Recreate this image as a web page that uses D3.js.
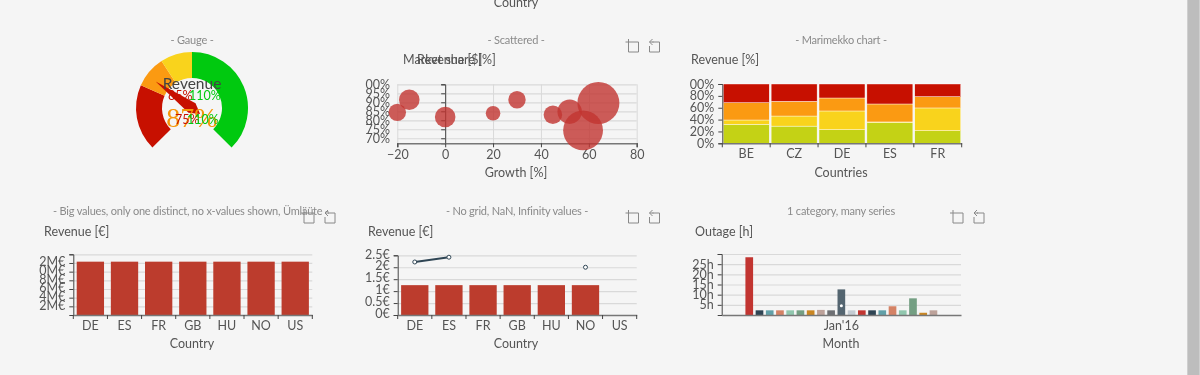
<!DOCTYPE html>
<html>
<head>
<meta charset="utf-8">
<script src="https://cdn.jsdelivr.net/npm/d3@7"></script>
<style>
  html, body { margin: 0; padding: 0; background: #f5f5f5; overflow: hidden; }
  svg { display: block; font-family: Lato, sans-serif; filter: blur(0.35px); }
  .title { font-size: 11px; letter-spacing: -0.2px; fill: #8a8a8a; text-anchor: middle; }
  .unit { font-size: 12.5px; fill: #555; }
  .axisname { font-size: 12.5px; fill: #555; text-anchor: middle; }
  .tick text { font-size: 12.5px; fill: #555; font-family: Lato, sans-serif; }
</style>
</head>
<body>
<svg id="chart" width="1200" height="375"></svg>
<script>
/*** Data ***/
var gaugeStops = [38, 75, 90, 110, 180];
var gaugeColors = ["#c71000", "#fb9a12", "#f9d31c", "#00c90f"];
var gaugeNeedle = 80.5;
var gaugeValueText = "87%";
var gaugeUpperLabels = ["85%", "110%"];
var gaugeLowerLabels = ["75%", "110%"];

var growth = [-20, -15, 0, 20, 30, 45, 52, 64, 57.6];
var marketShare = [84.4, 91.4, 81.8, 83.9, 91.4, 83.1, 84.8, 89.6, 74.4];
var bubbleRevenue = [8.6, 12, 12, 6, 8.6, 9.8, 17, 50, 45];
var scatterYTicks = [100, 95, 90, 85, 80, 75, 70];
var scatterYLabels = ["00%", "95%", "90%", "85%", "80%", "75%", "70%"];
var scatterXTicks = [-20, 0, 20, 40, 60, 80];

var mekkoCountries = ["BE", "CZ", "DE", "ES", "FR"];
var mekkoLime = [32, 29, 23, 35, 21.3];
var mekkoYellow = [7.3, 17, 31.5, 1, 38.3];
var mekkoOrange = [29.2, 24.8, 21.9, 30.3, 19.1];
var mekkoRed = [31.5, 29.2, 23.6, 33.7, 21.3];
var mekkoColors = ["#c4d215", "#f9d31c", "#fb9a12", "#c71000"];
var mekkoYTicks = [0, 20, 40, 60, 80, 100];
var mekkoYLabels = ["0%", "20%", "40%", "60%", "80%", "00%"];

var bigCountries = ["DE", "ES", "FR", "GB", "HU", "NO", "US"];
var bigValues = [12.3, 12.3, 12.3, 12.3, 12.3, 12.3, 12.3];
var bigYTicks = [2, 4, 6, 8, 10, 12, 14];
var bigYLabels = ["2M€", "4M€", "6M€", "8M€", "0M€", "2M€", ""];

var nanBars = [1.25, 1.25, 1.25, 1.25, 1.25, 1.25, NaN];
var nanLine = [2.22, 2.42, NaN, NaN, NaN, 2.0, NaN];
var nanYTicks = [0, 0.5, 1, 1.5, 2, 2.5];
var nanYLabels = ["0€", "0.5€", "1€", "1.5€", "2€", "2.5€"];

var outageCategory = ["Jan'16"];
var outageValues = [28.4, 2.3, 2.3, 2.3, 2.3, 2.3, 2.3, 2.5, 2.3, 12.6, 2.3, 2.3, 2.3, 2.3, 4.3, 2.3, 8.2, 1.1, 2.3];
var outageColors = ["#c23531", "#2f4554", "#61a0a8", "#d48265", "#91c7ae", "#749f83", "#ca8622", "#bda29a", "#6e7074", "#546570", "#c4ccd3"];
var outageMarker = [4.6];
var outageYTicks = [5, 10, 15, 20, 25, 30];
var outageYLabels = ["5h", "10h", "15h", "20h", "25h", ""];

var svg = d3.select("#chart");
var GRID = "#d9d9d9", AXIS_DARK = "#444", AXIS_GRAY = "#777", BAR = "#bc3c2d";

function label(cls, x, y, text) {
  return svg.append("text").attr("class", cls).attr("x", x).attr("y", y).text(text);
}

// horizontal gridlines, drawn through an axis with long ticks
function gridY(yScale, ticks, x0, x1) {
  var g = svg.append("g").attr("transform", "translate(" + x0 + ",0)")
    .call(d3.axisRight(yScale).tickValues(ticks).tickSize(x1 - x0).tickFormat(""));
  g.select(".domain").remove();
  g.selectAll("line").attr("stroke", GRID).attr("stroke-width", 1.2);
}

function axisY(yScale, ticks, labels, x) {
  var g = svg.append("g").attr("transform", "translate(" + x + ",0)")
    .call(d3.axisLeft(yScale).tickValues(ticks).tickSize(4).tickPadding(4)
      .tickFormat(function (d, i) { return labels[i]; }));
  g.selectAll("line").attr("stroke", AXIS_DARK);
  g.select(".domain").attr("stroke", AXIS_DARK);
  return g;
}

// band axis with the tick marks on the band edges
function axisBand(xScale, y) {
  var g = svg.append("g").attr("transform", "translate(0," + y + ")")
    .call(d3.axisBottom(xScale).tickSize(0).tickPadding(6));
  g.select(".domain").attr("stroke", AXIS_GRAY).attr("stroke-width", 1.5);
  var edges = d3.range(xScale.domain().length + 1);
  g.selectAll(".edge").data(edges).join("line").attr("class", "edge")
    .attr("x1", function (d) { return xScale.range()[0] + d * xScale.step(); })
    .attr("x2", function (d) { return xScale.range()[0] + d * xScale.step(); })
    .attr("y2", 4).attr("stroke", AXIS_DARK);
  return g;
}

// the two toolbar icons, x and y are the top left of the first one
function icons(x, y) {
  var g = svg.append("g").attr("transform", "translate(" + x + "," + y + ")")
    .attr("fill", "none").attr("stroke", "#888").attr("stroke-width", 1);
  g.append("path").attr("d", "M3 -1V12H13V2H0");
  g.append("path").attr("d", "M27 2H34V12H24V6M24 2L27 -1M24 2L27 5M24 2H28");
}

/*** Clipped axis name from the panel above ***/
label("axisname", 516, 7, "Country");

/*** Gauge ***/
function gauge() {
  var cx = 192, cy = 108;
  label("title", cx, 44, "- Gauge -");
  var angle = d3.scaleLinear().domain(gaugeStops).range([-135, -66, -33, 0, 135]);
  var arc = d3.arc().innerRadius(30).outerRadius(56);
  var g = svg.append("g").attr("transform", "translate(" + cx + "," + cy + ")");
  var spans = [[gaugeStops[0], gaugeStops[1]], [gaugeStops[1], gaugeStops[2]], [gaugeStops[2], gaugeStops[3]], [gaugeStops[3], gaugeStops[4]]];
  g.selectAll("path.seg").data(spans).join("path").attr("class", "seg")
    .attr("d", function (d) {
      return arc({ startAngle: angle(d[0]) * Math.PI / 180, endAngle: angle(d[1]) * Math.PI / 180 });
    })
    .attr("fill", function (d, i) { return gaugeColors[i]; });
  g.append("path")
    .attr("d", "M0 -45L6 0L0 10L-6 0Z")
    .attr("transform", "rotate(" + angle(gaugeNeedle) + ")")
    .attr("fill", "#c71000");

  label("", cx, 89, "Revenue").attr("text-anchor", "middle").attr("font-size", 15.5).attr("fill", "#444");
  label("", 168, 100, gaugeUpperLabels[0]).attr("font-size", 12.5).attr("fill", "#c71000");
  label("", 189, 100, gaugeUpperLabels[1]).attr("font-size", 12.5).attr("fill", "#00c90f");
  label("", cx, 126.5, gaugeValueText).attr("text-anchor", "middle")
    .attr("font-family", "'Liberation Serif', serif").attr("font-size", 28).attr("fill", "#f5960a");
  label("", 175, 124, gaugeLowerLabels[0]).attr("font-size", 12.5).attr("fill", "#c71000");
  label("", 187, 124, gaugeLowerLabels[1]).attr("font-size", 12.5).attr("fill", "#00c90f");
}
gauge();

/*** Scattered ***/
function scatter() {
  label("title", 516, 44, "- Scattered -");
  icons(625.5, 40);
  label("unit", 403, 64, "Market share [%]");
  label("unit", 417, 64, "Revenue [$]");

  var x = d3.scaleLinear().domain([-20, 80]).range([397.3, 636.7]);
  var y = d3.scaleLinear().domain([67.2, 100]).range([143.3, 84.3]);
  var r = d3.scaleSqrt().domain([0, 50]).range([0, 21]);

  gridY(y, scatterYTicks, 397.3, 636.7);
  var vgrid = svg.append("g").attr("transform", "translate(0,84.3)")
    .call(d3.axisBottom(x).tickValues(scatterXTicks).tickSize(59).tickFormat(""));
  vgrid.select(".domain").remove();
  vgrid.selectAll("line").attr("stroke", GRID);

  // the y axis crosses at x = 0, its labels stay on the left of the plot
  var yAxis = axisY(y, scatterYTicks, scatterYLabels, x(0));
  yAxis.selectAll("text").attr("x", 390 - x(0));

  var xAxis = svg.append("g").attr("transform", "translate(0,143.3)")
    .call(d3.axisBottom(x).tickValues(scatterXTicks).tickSize(4).tickPadding(2.5));
  xAxis.select(".domain").attr("stroke", AXIS_GRAY).attr("stroke-width", 1.5);
  xAxis.selectAll("line").attr("stroke", AXIS_DARK);

  svg.append("g").selectAll("circle").data(growth).join("circle")
    .attr("cx", function (d) { return x(d); })
    .attr("cy", function (d, i) { return y(marketShare[i]); })
    .attr("r", function (d, i) { return r(bubbleRevenue[i]); })
    .attr("fill", "#c23531").attr("fill-opacity", 0.8);

  label("axisname", 516, 177, "Growth [%]");
}
scatter();

/*** Marimekko ***/
function mekko() {
  label("title", 841, 44, "- Marimekko chart -");
  label("unit", 691, 64, "Revenue [%]");

  var x = d3.scaleBand().domain(mekkoCountries).range([722.3, 961.7]).paddingInner(0.04).paddingOuter(0.02);
  var y = d3.scaleLinear().domain([0, 100]).range([143.3, 84]);

  var table = mekkoCountries.map(function (c, i) {
    return { country: c, lime: mekkoLime[i], yellow: mekkoYellow[i], orange: mekkoOrange[i], red: mekkoRed[i] };
  });
  var layers = d3.stack().keys(["lime", "yellow", "orange", "red"])(table);

  svg.append("g").selectAll("g").data(layers).join("g")
    .attr("fill", function (d, i) { return mekkoColors[i]; })
    .selectAll("rect").data(function (d) { return d; }).join("rect")
    .attr("x", function (d) { return x(d.data.country); })
    .attr("y", function (d) { return y(d[1]); })
    .attr("width", x.bandwidth())
    .attr("height", function (d) { return y(d[0]) - y(d[1]); })
    .attr("stroke", "#fff").attr("stroke-width", 0.4);

  axisY(y, mekkoYTicks, mekkoYLabels, 722.3);
  axisBand(x, 143.3);
  label("axisname", 841, 177, "Countries");
}
mekko();

/*** Big values ***/
function bigChart() {
  label("title", 191, 215, "- Big values, only one distinct, no x-values shown, Ümläüte -");
  icons(301, 211);
  label("unit", 44, 236, "Revenue [€]");

  var x = d3.scaleBand().domain(bigCountries).range([73.3, 312.3]).paddingInner(0.2).paddingOuter(0.1);
  var y = d3.scaleLinear().domain([0, 14]).range([315, 254.3]);

  gridY(y, bigYTicks, 73.3, 312.3);
  svg.append("g").selectAll("rect").data(bigValues).join("rect")
    .attr("x", function (d, i) { return x(bigCountries[i]); })
    .attr("y", function (d) { return y(d); })
    .attr("width", x.bandwidth())
    .attr("height", function (d) { return y(0) - y(d); })
    .attr("fill", BAR);
  axisY(y, bigYTicks, bigYLabels, 73.3).selectAll("text").attr("y", -1.3);
  axisBand(x, 315);
  label("axisname", 192, 348, "Country");
}
bigChart();

/*** NaN values ***/
function nanChart() {
  label("title", 517, 215, "- No grid, NaN, Infinity values -");
  icons(625.5, 211);
  label("unit", 368, 236, "Revenue [€]");

  var x = d3.scaleBand().domain(bigCountries).range([397.7, 636.7]).paddingInner(0.2).paddingOuter(0.1);
  var y = d3.scaleLinear().domain([0, 2.5]).range([315, 255.3]);

  gridY(y, nanYTicks, 397.7, 636.7);
  svg.append("g").selectAll("rect").data(nanBars.filter(isFinite)).join("rect")
    .attr("x", function (d, i) { return x(bigCountries[i]); })
    .attr("y", function (d) { return y(d); })
    .attr("width", x.bandwidth())
    .attr("height", function (d) { return y(0) - y(d); })
    .attr("fill", BAR);
  axisY(y, nanYTicks, nanYLabels, 397.7).selectAll("text").attr("y", -1.3);
  axisBand(x, 315);

  var cx = function (d, i) { return x(bigCountries[i]) + x.bandwidth() / 2; };
  var line = d3.line().defined(isFinite).x(cx).y(function (d) { return y(d); });
  svg.append("path").attr("d", line(nanLine)).attr("fill", "none")
    .attr("stroke", "#2f4554").attr("stroke-width", 2);
  svg.append("g").selectAll("circle")
    .data(nanLine.map(function (d, i) { return { v: d, i: i }; }).filter(function (d) { return isFinite(d.v); }))
    .join("circle")
    .attr("cx", function (d) { return cx(d.v, d.i); })
    .attr("cy", function (d) { return y(d.v); })
    .attr("r", 2).attr("fill", "#fff").attr("stroke", "#2f4554").attr("stroke-width", 1);

  label("axisname", 516, 348, "Country");
}
nanChart();

/*** One category, many series ***/
function outage() {
  label("title", 841, 215, "1 category, many series");
  icons(950, 211);
  label("unit", 695, 236, "Outage [h]");

  var x0 = d3.scaleBand().domain(outageCategory).range([721.7, 961]).padding(0.11);
  var x1 = d3.scaleBand().domain(d3.range(outageValues.length))
    .range([x0(outageCategory[0]), x0(outageCategory[0]) + x0.bandwidth()]).paddingInner(0.25);
  var y = d3.scaleLinear().domain([0, 30]).range([315, 254]);

  gridY(y, outageYTicks, 721.7, 961);
  svg.append("g").selectAll("rect").data(outageValues).join("rect")
    .attr("x", function (d, i) { return x1(i); })
    .attr("y", function (d) { return y(d); })
    .attr("width", x1.bandwidth())
    .attr("height", function (d) { return y(0) - y(d); })
    .attr("fill", function (d, i) { return outageColors[i % outageColors.length]; });
  svg.append("g").selectAll("circle").data(outageMarker).join("circle")
    .attr("cx", x0(outageCategory[0]) + x0.bandwidth() / 2)
    .attr("cy", function (d) { return y(d); })
    .attr("r", 1.5).attr("fill", "#fff");

  axisY(y, outageYTicks, outageYLabels, 721.7);
  var g = svg.append("g").attr("transform", "translate(0,315)")
    .call(d3.axisBottom(x0).tickSize(0).tickPadding(6));
  g.select(".domain").attr("stroke", AXIS_GRAY).attr("stroke-width", 1.5);
  label("axisname", 841, 348, "Month");
}
outage();

/*** Page scrollbar on the right ***/
svg.append("rect").attr("x", 1187).attr("y", 0).attr("width", 13).attr("height", 375).attr("fill", "#cfcfcf");
svg.append("rect").attr("x", 1188).attr("y", 0).attr("width", 11).attr("height", 375).attr("fill", "#bdbdbd");
</script>
</body>
</html>
